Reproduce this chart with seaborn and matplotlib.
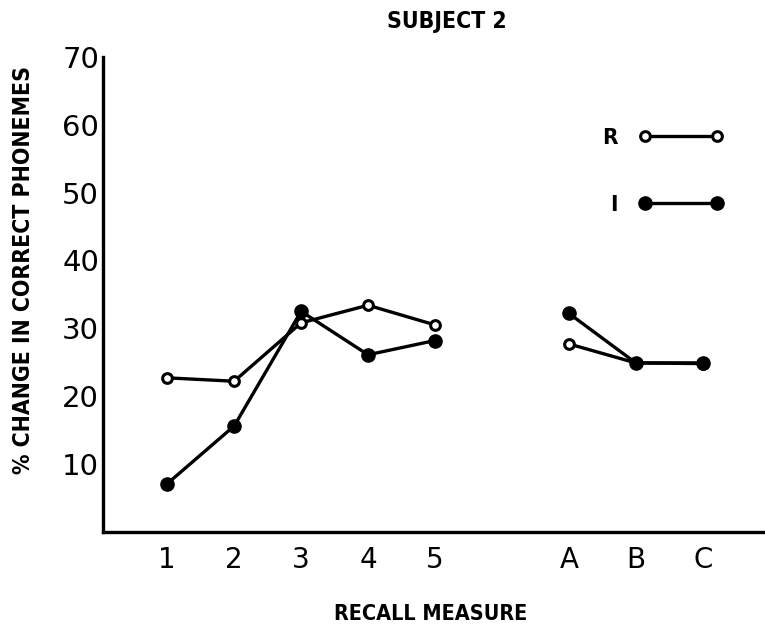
import numpy as np
import pandas as pd
import matplotlib
matplotlib.use("Agg")
import matplotlib.pyplot as plt
from matplotlib.lines import Line2D
from matplotlib.legend_handler import HandlerLine2D
import seaborn as sns

# ---- data ----
measures = ["1", "2", "3", "4", "5", "A", "B", "C"]
positions = [1, 2, 3, 4, 5, 7, 8, 9]
segments = [1, 1, 1, 1, 1, 2, 2, 2]
r_values = [22.7, 22.2, 30.8, 33.4, 30.5, 27.7, 24.9, 24.8]
i_values = [7.1, 15.6, 32.5, 26.1, 28.2, 32.2, 24.9, 24.9]
y_ticks = [10, 20, 30, 40, 50, 60, 70]

df = pd.DataFrame({
    "measure": measures * 2,
    "pos": positions * 2,
    "segment": segments * 2,
    "value": r_values + i_values,
    "series": ["R"] * len(measures) + ["I"] * len(measures),
})

sns.set_theme(style="white")
plt.rcParams["font.family"] = ["DejaVu Sans"]
plt.rcParams["text.color"] = "black"
plt.rcParams["axes.labelcolor"] = "black"
plt.rcParams["xtick.color"] = "black"
plt.rcParams["ytick.color"] = "black"

fig = plt.figure(figsize=(7.65, 6.25), dpi=100)
ax = fig.add_axes([0.135, 0.149, 0.865, 0.760])

lw = 2.4
sns.lineplot(data=df[df.series == "R"], x="pos", y="value", units="segment",
             estimator=None, sort=False, color="black", lw=lw, marker="o",
             markersize=7, markerfacecolor="white", markeredgecolor="black",
             markeredgewidth=2.2, legend=False, ax=ax, zorder=3)
sns.lineplot(data=df[df.series == "I"], x="pos", y="value", units="segment",
             estimator=None, sort=False, color="black", lw=lw, marker="o",
             markersize=9.5, markerfacecolor="black", markeredgecolor="black",
             markeredgewidth=1, legend=False, ax=ax, zorder=4)

ax.set_xlim(0.045, 9.93)
ax.set_ylim(0, 70)
ax.set_xticks(positions)
ax.set_xticklabels(measures)
ax.set_yticks(y_ticks)
ax.set_yticklabels([str(v) for v in y_ticks])

for s in ["top", "right"]:
    ax.spines[s].set_visible(False)
for s in ["left", "bottom"]:
    ax.spines[s].set_linewidth(2.4)
    ax.spines[s].set_color("black")
ax.spines["left"].set_bounds(0, 70)

ax.tick_params(axis="both", direction="in", length=11, width=2.2, colors="black")
ax.tick_params(axis="y", pad=3, labelsize=21)
ax.tick_params(axis="x", pad=10, labelsize=20)

ax.set_xlabel("RECALL MEASURE", fontsize=15.5, fontweight="bold",
              fontstretch="condensed")
ax.xaxis.set_label_coords(0.494, -0.173)
ax.xaxis.label.set_va("center")
ax.set_ylabel("% CHANGE IN CORRECT PHONEMES", fontsize=16.5, fontweight="bold",
              fontstretch="condensed")
ax.yaxis.set_label_coords(-0.121, 0.552)
ax.yaxis.label.set_va("center")

fig.text(0.584, 0.966, "SUBJECT 2", ha="center", va="center", fontsize=16.5,
         fontweight="bold", fontstretch="condensed")

handles = [
    Line2D([], [], color="black", lw=lw, marker="o", markersize=7,
           markerfacecolor="white", markeredgecolor="black", markeredgewidth=2.2),
    Line2D([], [], color="black", lw=lw, marker="o", markersize=9.5,
           markerfacecolor="black", markeredgecolor="black"),
]
leg = ax.legend(handles, ["R", "I"], numpoints=2, markerfirst=False,
                frameon=False, loc="center",
                bbox_to_anchor=(0.862, 0.726), bbox_transform=fig.transFigure,
                prop={"weight": "bold", "size": 16, "stretch": "condensed"},
                handlelength=3.25, handletextpad=1.25, labelspacing=2.1,
                borderpad=0,
                handler_map={Line2D: HandlerLine2D(marker_pad=0)})

fig.savefig("out.png", dpi=100)
